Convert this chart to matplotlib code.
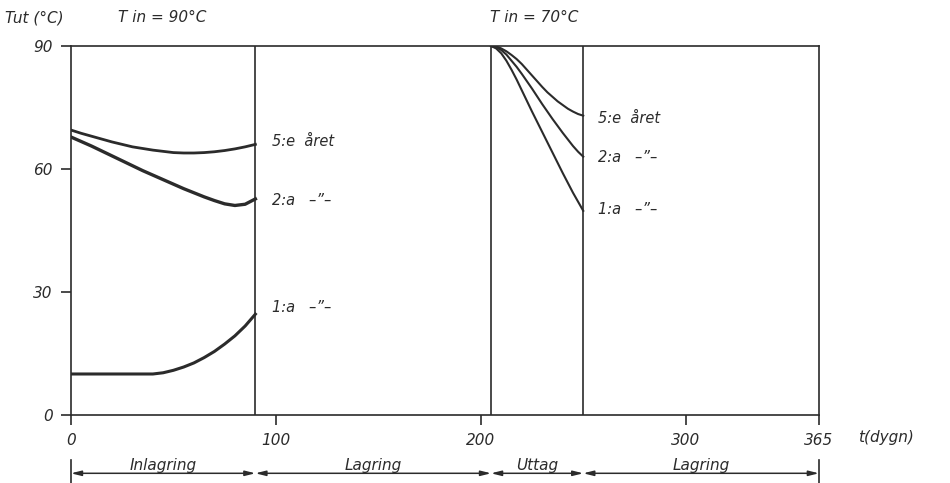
import numpy as np
import matplotlib.pyplot as plt
import matplotlib.transforms as mtransforms

# phase boundaries (days) and names
bounds = [0, 90, 205, 250, 365]
phases = ["Inlagring", "Lagring", "Uttag", "Lagring"]

# charging period, Tin = 90 C
days_in = [0, 5, 10, 15, 20, 25, 30, 35, 40, 45, 50, 55, 60, 65, 70, 75, 80, 85, 90]
in_year5 = [69.5, 68.7, 68.0, 67.3, 66.6, 66.0, 65.4, 65.0, 64.6, 64.3,
            64.0, 63.9, 63.9, 64.0, 64.2, 64.5, 64.9, 65.4, 66.0]
in_year2 = [67.8, 66.7, 65.6, 64.4, 63.2, 62.0, 60.8, 59.6, 58.5, 57.4,
            56.3, 55.2, 54.2, 53.2, 52.3, 51.5, 51.1, 51.4, 52.7]
in_year1 = [10.0, 10.0, 10.0, 10.0, 10.0, 10.0, 10.0, 10.0, 10.0, 10.3,
            10.9, 11.7, 12.7, 14.0, 15.5, 17.3, 19.3, 21.7, 24.6]

# extraction period, Tin = 70 C
days_out = [205, 207.5, 210, 212.5, 215, 217.5, 220, 222.5, 225, 227.5,
            230, 232.5, 235, 237.5, 240, 242.5, 245, 247.5, 250]
out_year5 = [90.0, 89.9, 89.4, 88.7, 87.8, 86.8, 85.6, 84.2, 82.8, 81.4,
             80.0, 78.7, 77.6, 76.5, 75.6, 74.7, 74.0, 73.4, 73.0]
out_year2 = [90.0, 89.7, 89.0, 87.9, 86.4, 84.9, 83.2, 81.4, 79.6, 77.7,
             75.8, 74.0, 72.2, 70.5, 68.8, 67.2, 65.6, 64.2, 63.0]
out_year1 = [90.0, 89.4, 88.2, 86.4, 84.2, 81.8, 79.2, 76.6, 74.0, 71.5,
             69.0, 66.5, 64.0, 61.5, 59.0, 56.6, 54.2, 52.0, 49.8]

labels = ["5:e  året", "2:a   –\u201d–", "1:a   –\u201d–"]
in_label_y = [66.8, 52.4, 26.3]
out_label_y = [72.4, 62.9, 50.0]

ink = "#2b2b2b"
plt.rcParams['font.family'] = ['DejaVu Sans']
plt.rcParams['font.style'] = 'italic'

fig = plt.figure(figsize=(9.5, 4.83), dpi=100)
ax = fig.add_axes([0.0747, 0.1408, 0.7873, 0.764])

for s in ax.spines.values():
    s.set_color(ink)
    s.set_linewidth(1.2)

ax.plot(days_in, in_year5, color=ink, lw=2.0)
ax.plot(days_in, in_year2, color=ink, lw=2.4)
ax.plot(days_in, in_year1, color=ink, lw=2.2)
ax.plot(days_out, out_year5, color=ink, lw=1.5)
ax.plot(days_out, out_year2, color=ink, lw=1.5)
ax.plot(days_out, out_year1, color=ink, lw=1.5)

for b in bounds[1:-1]:
    ax.axvline(b, color=ink, lw=1.2)

# curve labels
for lab, y in zip(labels, in_label_y):
    ax.text(98, y, lab, fontsize=10.5, color=ink, va='center')
for lab, y in zip(labels, out_label_y):
    ax.text(257, y, lab, fontsize=10.5, color=ink, va='center')

ax.set_xlim(0, 365)
ax.set_ylim(0, 90)
ax.set_xticks([0, 100, 200, 300, 365])
ax.set_xticklabels(["0", "100", "200", "300", "365"])
ax.set_yticks([0, 30, 60, 90])
ax.tick_params(axis='both', direction='out', length=7, width=1.2, color=ink,
               labelsize=11, labelcolor=ink)
ax.tick_params(axis='y', pad=6)
ax.tick_params(axis='x', pad=6)

ax.text(384, -5.6, "t(dygn)", fontsize=11, color=ink, ha='left', va='center',
        clip_on=False)

fig.text(5 / 950, 1 - 18 / 483, "Tut (°C)", fontsize=11, color=ink, va='center')
fig.text(118 / 950, 1 - 18 / 483, "T in = 90°C", fontsize=11, color=ink, va='center')
fig.text(490 / 950, 1 - 18 / 483, "T in = 70°C", fontsize=11, color=ink, va='center')

# phase arrows below the axis
trans = mtransforms.blended_transform_factory(ax.transData, ax.transAxes)
ya = -0.158
for i, name in enumerate(phases):
    x0, x1 = bounds[i], bounds[i + 1]
    ax.annotate("", xy=(x1, ya), xytext=(x0, ya), xycoords=trans, textcoords=trans,
                arrowprops=dict(arrowstyle="<|-|>,head_length=0.6,head_width=0.15",
                                color=ink, lw=1.1, shrinkA=0, shrinkB=0),
                annotation_clip=False)
    ax.text((x0 + x1) / 2, ya + 0.022, name, transform=trans, fontsize=11,
            color=ink, ha='center', va='center', clip_on=False)
for b in [bounds[0], bounds[-1]]:
    ax.plot([b, b], [ya - 0.025, ya + 0.035], transform=trans, color=ink,
            lw=1.2, clip_on=False)

fig.savefig("out.png", dpi=100, facecolor="white")
